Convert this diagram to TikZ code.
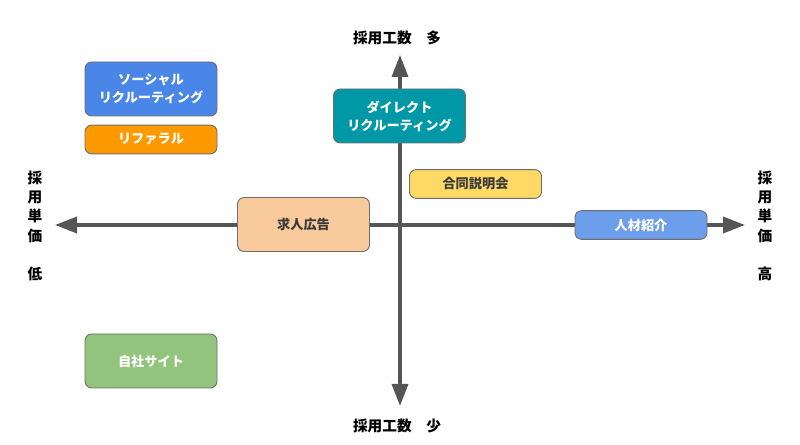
\documentclass[tikz,border=0pt]{standalone}
\usepackage{fontspec}
\setmainfont{Noto Sans CJK JP}
\usetikzlibrary{arrows.meta}

\definecolor{axisgray}{HTML}{555555}
\definecolor{boxline}{HTML}{6E6E6E}
\definecolor{darktext}{HTML}{3A3A3A}
\definecolor{socialblue}{HTML}{4A86E8}
\definecolor{referralorange}{HTML}{FF9900}
\definecolor{directteal}{HTML}{0097A7}
\definecolor{jointyellow}{HTML}{FFD966}
\definecolor{adpeach}{HTML}{F9CB9C}
\definecolor{agentblue}{HTML}{6D9EEB}
\definecolor{ownsitegreen}{HTML}{93C47D}

\tikzset{
  axis/.style={draw=axisgray, line width=2.6pt, {Triangle[length=16.5pt,width=12pt]}-{Triangle[length=16.5pt,width=12pt]}},
  box/.style={draw=boxline, line width=0.7pt, rounded corners=5pt, minimum width=99pt,
    inner sep=0pt, align=center, text=white, font=\fontsize{9.9}{13.5}\selectfont\bfseries},
  tallbox/.style={box, minimum height=40.5pt},
  flatbox/.style={box, minimum height=21.5pt},
  axislabel/.style={text=black, font=\fontsize{11}{14.5}\selectfont\bfseries, align=center, inner sep=0pt}
}

\begin{document}
\begin{tikzpicture}[x=0.75pt,y=-0.75pt]
  \useasboundingbox (0,0) rectangle (800,445);

  % axes
  \coordinate (o) at (400,225);
  \coordinate (xl) at (55,225);
  \coordinate (xr) at (745,225);
  \coordinate (yt) at (400,55);
  \coordinate (yb) at (400,406);
  \draw[axis] (xl) -- (xr);
  \draw[axis] (yb) -- (yt);

  % axis labels
  \node[axislabel] (costlow)  at (35,226)  {採\\用\\単\\価\\[14.5pt]低};
  \node[axislabel] (costhigh) at (765,226) {採\\用\\単\\価\\[14.5pt]高};
  \node[axislabel] (efforthigh) at (397,38)  {採用工数　多};
  \node[axislabel] (effortlow)  at (397,426) {採用工数　少};

  % channels
  \node[tallbox, fill=socialblue] (social) at (151,89) {ソーシャル\\リクルーティング};
  \node[flatbox, fill=referralorange] (referral) at (151,139.5) {リファラル};
  \node[tallbox, fill=directteal] (direct) at (399.5,116) {ダイレクト\\リクルーティング};
  \node[flatbox, fill=jointyellow, text=darktext] (joint) at (475.5,184) {合同説明会};
  \node[tallbox, fill=adpeach, text=darktext] (jobad) at (303.5,224.5) {求人広告};
  \node[flatbox, fill=agentblue] (agent) at (641,225) {人材紹介};
  \node[tallbox, fill=ownsitegreen] (ownsite) at (151,361) {自社サイト};
\end{tikzpicture}
\end{document}
